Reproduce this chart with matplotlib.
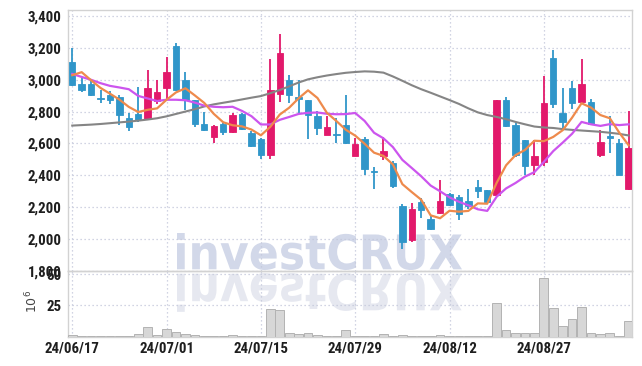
import matplotlib
matplotlib.use("Agg")
import matplotlib.pyplot as plt
import numpy as np
from matplotlib import font_manager as fm
from matplotlib.textpath import TextPath
from matplotlib.patches import PathPatch
from matplotlib.font_manager import FontProperties
from matplotlib.transforms import Affine2D

# daily candles, one per trading day
opens = [3110, 2975, 2975, 2885, 2905, 2890, 2760, 2785, 2755, 2865,
         2945, 3210, 3000, 2870, 2720, 2640, 2720, 2670, 2785, 2665,
         2625, 2530, 2910, 3000, 2890, 2870, 2775, 2650, 2662, 2715,
         2520, 2625, 2430, 2520, 2480, 2205, 1995, 2230, 2125, 2165,
         2280, 2265, 2240, 2325, 2305, 2275, 2875, 2715, 2620, 2465,
         2485, 3135, 2790, 2945, 2860, 2860, 2525, 2645, 2600, 2315]
highs = [3200, 3010, 3000, 2935, 2930, 2905, 2790, 2955, 3060, 3000,
         3140, 3230, 3050, 2870, 2795, 2715, 2730, 2790, 2790, 2675,
         2635, 3130, 3285, 3030, 3000, 2875, 2805, 2770, 2760, 2905,
         2635, 2640, 2455, 2640, 2490, 2220, 2225, 2260, 2150, 2370,
         2290, 2275, 2315, 2370, 2305, 2875, 2890, 2730, 2620, 2620,
         3025, 3185, 2950, 2990, 3130, 2880, 2685, 2770, 2625, 2805]
lows = [2960, 2925, 2900, 2855, 2850, 2715, 2680, 2735, 2745, 2850,
        2880, 2930, 2810, 2705, 2680, 2605, 2655, 2665, 2685, 2575,
        2505, 2505, 2860, 2855, 2785, 2630, 2650, 2650, 2605, 2595,
        2520, 2405, 2315, 2495, 2320, 1940, 1985, 2135, 2060, 2160,
        2205, 2120, 2190, 2260, 2228, 2270, 2705, 2515, 2400, 2400,
        2458, 2820, 2695, 2815, 2860, 2718, 2515, 2540, 2405, 2310]
closes = [2965, 2935, 2905, 2878, 2875, 2780, 2705, 2745, 2950, 2920,
          3050, 2935, 2875, 2725, 2685, 2710, 2670, 2780, 2690, 2585,
          2530, 2935, 3165, 2905, 2878, 2780, 2695, 2700, 2653, 2600,
          2595, 2440, 2420, 2555, 2330, 1980, 2190, 2180, 2065, 2240,
          2215, 2160, 2205, 2300, 2230, 2870, 2710, 2525, 2460, 2520,
          2855, 2845, 2735, 2855, 2970, 2720, 2610, 2635, 2405, 2570]
volumes = [1.1, 0.3, 0.3, 0.3, 0.3, 0.8, 0.3, 2.4, 7.3, 1.1,
           5.7, 3.5, 1.9, 1.1, 0.3, 0.3, 0.3, 1.1, 0.3, 0.3,
           0.3, 21.9, 21.1, 3.2, 2.4, 3.2, 1.1, 0.3, 0.3, 4.9,
           0.3, 0.5, 0.5, 2.2, 0.5, 1.4, 0.5, 0.5, 0.3, 1.4,
           0.3, 0.3, 0.3, 0.5, 0.3, 26.8, 4.9, 3.2, 3.2, 3.2,
           47.0, 22.7, 8.1, 13.8, 23.5, 3.2, 2.4, 3.2, 0.5, 12.2]

# moving averages as drawn on the chart
ma5 = [3028, 3047, 2996, 2948, 2912, 2875, 2829, 2797, 2811, 2820,
       2874, 2920, 2946, 2901, 2854, 2786, 2733, 2714, 2707, 2687,
       2651, 2704, 2781, 2824, 2883, 2933, 2885, 2792, 2741, 2686,
       2649, 2598, 2542, 2522, 2468, 2345, 2295, 2247, 2149, 2131,
       2178, 2172, 2177, 2224, 2222, 2353, 2463, 2527, 2559, 2617,
       2614, 2641, 2683, 2762, 2852, 2825, 2778, 2758, 2668, 2588]
ma10 = [3036, 3017, 2999, 2978, 2961, 2951, 2940, 2898, 2882, 2866,
        2874, 2874, 2871, 2856, 2837, 2830, 2827, 2830, 2804, 2771,
        2719, 2719, 2748, 2766, 2785, 2792, 2794, 2786, 2783, 2784,
        2791, 2741, 2667, 2632, 2577, 2497, 2446, 2394, 2336, 2300,
        2262, 2234, 2212, 2187, 2177, 2266, 2318, 2352, 2392, 2420,
        2484, 2552, 2605, 2661, 2735, 2720, 2710, 2721, 2715, 2720]
ma_long = [2712, 2715, 2718, 2722, 2727, 2732, 2737, 2743, 2750, 2758,
           2770, 2785, 2800, 2815, 2832, 2845, 2855, 2865, 2876, 2887,
           2897, 2915, 2935, 2958, 2982, 3002, 3015, 3026, 3035, 3043,
           3048, 3052, 3050, 3044, 3020, 2993, 2965, 2940, 2918, 2895,
           2872, 2848, 2820, 2795, 2778, 2766, 2752, 2735, 2720, 2706,
           2700, 2697, 2690, 2685, 2681, 2677, 2673, 2667, 2660, 2650]

tick_pos = [0, 10, 20, 30, 40, 50]
tick_labels = ["24/06/17", "24/07/01", "24/07/15", "24/07/29", "24/08/12", "24/08/27"]
price_ticks = [1800, 2000, 2200, 2400, 2600, 2800, 3000, 3200, 3400]
vol_ticks = [25, 50]

UP = "#e2196b"
DOWN = "#3096c9"
GRID = "#c3c7da"
SPINE = "#d2d2d2"
TXT = "#1e1e1e"


def pick_narrow_font():
    # the chart uses a narrow, heavy sans face; take the closest one installed
    prefs = ["Liberation Sans Narrow", "Roboto Condensed", "DejaVu Sans",
             "Noto Sans", "Open Sans", "Roboto", "Lato", "Inter"]
    found = []
    for f in fm.fontManager.ttflist:
        st = f.stretch
        cond = ("Narrow" in f.name or "Condensed" in f.name
                or (isinstance(st, str) and "condensed" in st)
                or (isinstance(st, (int, float)) and st < 500))
        if not cond or f.style != "normal":
            continue
        w = f.weight if isinstance(f.weight, (int, float)) else 400
        rank = len(prefs)
        for k, p in enumerate(prefs):
            if f.name.startswith(p):
                rank = k
                break
        found.append((rank, abs(w - 650), f.fname))
    if found:
        found.sort()
        return FontProperties(fname=found[0][2])
    return FontProperties(family="DejaVu Sans", weight="bold")


fp = pick_narrow_font()
# size the face so the date labels come out close to the chart's width
probe = TextPath((0, 0), "24/06/17", size=15, prop=fp).get_extents().width
label_px = min(15.0, 15 * 54 / probe)
fp.set_size(label_px * 0.72)

W, H = 642, 366
fig = plt.figure(figsize=(W / 100, H / 100), dpi=100)

# background layer in pixel coords for the watermark
bg = fig.add_axes([0, 0, 1, 1])
bg.set_xlim(0, W)
bg.set_ylim(H, 0)
bg.axis("off")

tp = TextPath((0, 0), "investCRUX", size=50,
              prop=FontProperties(family="DejaVu Sans", weight="bold"))
bb = tp.get_extents()
sx = (462 - 177) / bb.width
sy = (270 - 233) / bb.height
t_up = Affine2D().translate(-bb.x0, -bb.y0).scale(sx, -sy).translate(177, 270)
t_dn = Affine2D().translate(-bb.x0, -bb.y0).scale(sx, sy * 1.05).translate(177, 273)
bg.add_patch(PathPatch(tp, transform=t_up + bg.transData, color="#d2d8e9", lw=0))
bg.add_patch(PathPatch(tp, transform=t_dn + bg.transData, color="#e6e8f0", lw=0))

left, right = 68 / W, 632 / W
ax = fig.add_axes([left, 1 - 271 / H, right - left, (271 - 9.5) / H], facecolor="none")
axv = fig.add_axes([left, 1 - 336.5 / H, right - left, (336.5 - 271) / H],
                   facecolor="none", sharex=ax)

x = np.arange(len(closes))
o = np.array(opens)
c = np.array(closes)
cols = np.where(c >= o, UP, DOWN)

ax.vlines(x, lows, highs, colors=cols, lw=1.3, zorder=3)
ax.bar(x, np.maximum(np.abs(c - o), 4), bottom=np.minimum(o, c), width=0.68,
       color=cols, edgecolor=cols, lw=0.6, zorder=4)

ax.plot(x, ma_long, color="#858585", lw=1.5, zorder=5)
ax.plot(x, ma10, color="#cc55ee", lw=1.6, zorder=5)
ax.plot(x, ma5, color="#ee8a4c", lw=1.6, zorder=6)

ax.set_xlim(-0.45, 59.35)
ax.set_ylim(1800, 3440)
ax.set_yticks(price_ticks)
ax.set_yticklabels([f"{v:,}" for v in price_ticks], fontproperties=fp)
ax.set_xticks(tick_pos)
ax.tick_params(axis="x", labelbottom=False, length=0)
ax.tick_params(axis="y", length=0, pad=4.5, labelcolor=TXT)
ax.grid(True, linestyle=(0, (1, 2.2)), color=GRID, lw=0.9)

axv.bar(x, volumes, width=0.92, color="#d7d7d7", edgecolor="#b3b3b3", lw=0.7, zorder=3)
axv.set_ylim(0, 52.7)
axv.set_yticks(vol_ticks)
axv.set_yticklabels([str(v) for v in vol_ticks], fontproperties=fp)
axv.set_xticks(tick_pos)
axv.set_xticklabels(tick_labels, fontproperties=fp)
axv.tick_params(axis="y", length=0, pad=4.5, labelcolor=TXT)
axv.tick_params(axis="x", length=0, pad=3.5, labelcolor=TXT)
axv.grid(True, linestyle=(0, (1, 2.2)), color=GRID, lw=0.9)

for a in (ax, axv):
    for s in a.spines.values():
        s.set_color(SPINE)
        s.set_linewidth(1.0)

fig.text(32 / W, 1 - 301 / H, r"$10^6$", rotation=90, ha="center", va="center",
         fontsize=9, color="#444444")

fig.savefig("out.png", dpi=100)
